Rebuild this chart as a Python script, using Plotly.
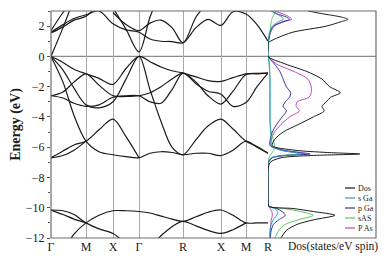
import plotly.graph_objects as go

# ---------------- data ----------------
# k-path grid (cumulative path distance), high-symmetry points at indices 0,3,5,7,11,14,16,18
K = [0, 12, 23, 35, 48, 62, 75, 88, 99, 110, 121, 132, 145, 157, 170, 182, 195, 206, 217]
K_TICKS = [0, 35, 62, 88, 132, 170, 195, 217]
K_LABELS = ["Γ", "M", "X", "Γ", "R", "X", "M", "R"]

# conduction bands (eV)
C1 = [0, 1.9, 3.8, None, None, 3.2, 1.8, 0.3, 2.6, 4.3, None, None, None, None, None, None, None, None, None]
C2 = [1.6, 2.1, 2.5, 2.75, 3.0, 2.15, 1.75, 1.6, 1.15, 1.0, 0.98, 0.9, 1.9, 2.45, 2.05, 2.95, 2.8, 2.1, 1.0]
C3 = [1.7, 2.9, 3.8, None, None, 2.9, 2.1, 1.7, 2.2, 2.4, 1.9, 0.9, 2.6, 3.6, None, None, None, None, None]
C4 = [1.55, 1.95, 2.4, 2.65, 3.5, None, None, None, None, None, None, None, None, None, None, None, None, None, None]
# upper valence bands
V1 = [0, -0.4, -0.85, -1.15, -1.45, -1.85, -0.8, 0, -0.35, -0.7, -0.95, -1.1, -1.35, -1.6, -1.65, -1.4, -1.15, -1.12, -1.1]
V2 = [-2.6, -2.35, -1.7, -1.15, -1.9, -2.6, -2.65, -2.6, -2.4, -2.0, -1.5, -1.1, -1.7, -2.6, -3.15, -2.3, -1.2, -1.15, -1.1]
V3 = [0, -0.9, -2.1, -3.2, -3.4, -3.0, -1.5, 0, -2.2, -4.3, -6.0, -6.5, -5.5, -4.6, -4.15, -4.8, -5.6, -5.95, -6.4]
V4 = [-2.6, -2.75, -3.1, -3.3, -3.2, -2.7, -2.6, -2.6, -3.0, -3.1, -2.2, -1.1, -1.8, -2.3, -2.5, -3.3, -3.05, -2.0, -1.1]
# middle valence bands
S1 = [0, -1.7, -3.9, -5.6, -6.3, -6.5, -6.62, -6.7, -6.4, -6.3, -6.35, -6.5, -6.4, -6.4, -6.55, -6.2, -5.6, -6.0, -6.4]
S2 = [-6.7, -6.25, -5.85, -5.6, -4.85, -4.15, -5.3, -6.7, None, None, None, None, None, None, None, None, None, None, None]
S3 = [-6.7, -6.55, -6.2, -5.6, None, None, None, None, None, None, None, None, None, None, None, None, None, None, None]
# lower valence bands
L1 = [-10.15, -10.2, -10.45, -11.0, -11.4, -11.7, -12.4, None, None, None, None, None, None, None, None, None, None, None, None]
L2 = [-10.15, -10.45, -10.75, -11.0, None, None, None, None, None, None, None, None, None, None, None, None, None, None, None]
L3 = [None, -12.9, -11.75, -11.0, -10.5, -10.2, -10.2, -10.25, -10.35, -10.55, -10.75, -10.9, -10.6, -10.3, -10.15, -10.5, -11.0, -11.0, -11.0]
L4 = [None, None, None, None, None, None, None, None, -12.6, -11.85, -11.25, -10.9, -11.2, -11.5, -11.7, -11.45, -11.0, None, None]

BANDS = [C1, C2, C3, C4, V1, V2, V3, V4, S1, S2, S3, L1, L2, L3, L4]

# density of states (energy grid and partial DOS values)
E_DOS = [3.0, 2.8, 2.6, 2.45, 2.3, 2.0, 1.6, 1.2, 0.9, 0.5, 0.0, -0.5, -1.0, -1.5, -2.0, -2.4, -2.7, -3.0,
         -3.3, -3.6, -4.0, -4.5, -5.0, -5.5, -5.9, -6.2, -6.35, -6.45, -6.55, -6.7, -7.0, -7.5, -8.5, -9.5,
         -9.9, -10.05, -10.25, -10.5, -10.8, -11.1, -11.5, -12.0]
DOS_TOTAL = [3.7, 5.2, 6.8, 7.4, 6.8, 5.4, 2.3, 0.8, 0.05, 0, 0, 1.6, 3.6, 5.0, 5.7, 6.7, 5.8, 5.4,
             5.0, 5.2, 4.2, 2.8, 1.4, 0.6, 0.4, 2.5, 5.5, 8.5, 4.0, 1.2, 0.2, 0, 0, 0,
             0.1, 2.3, 4.2, 6.2, 4.2, 2.7, 1.7, 1.2]
DOS_S_GA = [0.3, 0.8, 1.3, 1.4, 1.0, 0.4, 0.15, 0.05, 0, 0, 0, 0.1, 0.15, 0.2, 0.2, 0.2, 0.2, 0.2,
            0.2, 0.2, 0.2, 0.2, 0.25, 0.3, 0.3, 1.2, 2.4, 3.0, 1.2, 0.3, 0, 0, 0, 0,
            0.05, 0.6, 0.9, 0.8, 0.5, 0.3, 0.2, 0.15]
DOS_P_GA = [0.3, 0.9, 1.7, 2.0, 1.4, 0.5, 0.2, 0.1, 0, 0, 0, 0.6, 1.1, 1.4, 1.7, 2.1, 2.0, 1.6,
            1.4, 1.7, 1.3, 0.8, 0.4, 0.2, 0.2, 1.5, 3.0, 3.9, 1.6, 0.4, 0.05, 0, 0, 0,
            0.05, 0.8, 1.3, 1.6, 1.0, 0.5, 0.3, 0.2]
DOS_S_AS = [0.8, 0.6, 0.45, 0.35, 0.3, 0.25, 0.2, 0.1, 0.05, 0, 0, 0.15, 0.15, 0.15, 0.15, 0.15, 0.15, 0.15,
            0.15, 0.15, 0.15, 0.2, 0.3, 0.5, 0.6, 0.5, 0.4, 0.3, 0.2, 0.1, 0, 0, 0, 0,
            0.1, 1.5, 3.0, 4.2, 2.8, 1.6, 1.0, 0.65]
DOS_P_AS = [0.6, 1.4, 2.0, 2.2, 1.5, 0.6, 0.25, 0.1, 0, 0, 0, 0.8, 2.4, 3.7, 4.0, 4.0, 3.8, 2.7,
            2.6, 2.9, 2.0, 1.2, 0.6, 0.3, 0.3, 1.2, 2.5, 3.5, 1.5, 0.4, 0.05, 0, 0, 0,
            0, 0.2, 0.35, 0.4, 0.3, 0.25, 0.2, 0.2]

DOS_SERIES = [DOS_TOTAL, DOS_S_GA, DOS_P_GA, DOS_S_AS, DOS_P_AS]
DOS_NAMES = ["Dos", "s Ga", "p Ga", "sAS", "P As"]
DOS_COLORS = ["#1a1a1a", "#2f9fb3", "#34349a", "#5dc95d", "#c046c0"]

Y_TICKS = [-12, -10, -8, -6, -4, -2, 0, 2]
DOS_TITLE = "Dos(states/eV spin)"

# ---------------- figure ----------------
FONT = "Liberation Serif"
PAGE = 8                      # default body margin of the html page
W, H = 387 - PAGE, 262 - PAGE
ML, MR, MT, MB = 51 - PAGE, 11, 11 - PAGE, 24
PW, PH = W - ML - MR, H - MT - MB
SPLIT = (268 - PAGE - ML) / PW

fig = go.Figure()

for b in BANDS:
    fig.add_trace(go.Scatter(x=K, y=b, mode="lines", showlegend=False, hoverinfo="skip",
                             line=dict(color="#1a1a1a", width=1.2, shape="spline", smoothing=0.9),
                             connectgaps=False, xaxis="x", yaxis="y"))

order = [4, 3, 2, 1, 0]
for i in order:
    fig.add_trace(go.Scatter(x=DOS_SERIES[i], y=E_DOS, mode="lines", name=DOS_NAMES[i], showlegend=False,
                             line=dict(color=DOS_COLORS[i], width=1.0, shape="spline", smoothing=0.8),
                             xaxis="x2", yaxis="y"))

shapes = [
    dict(type="line", xref="paper", yref="y", x0=0, x1=1, y0=0, y1=0,
         line=dict(color="#8c8c8c", width=1.2), layer="below"),
    dict(type="rect", xref="paper", yref="paper", x0=0, x1=1, y0=0, y1=1,
         line=dict(color="#6e6e6e", width=1.2)),
]

annotations = []
leg_y = [188, 198, 208, 218, 228]
for j, name in enumerate(DOS_NAMES):
    yp = 1 - (leg_y[j] - 11) / PH
    x0 = (345 - 51) / PW
    x1 = (355 - 51) / PW
    shapes.append(dict(type="line", xref="paper", yref="paper", x0=x0, x1=x1, y0=yp, y1=yp,
                       line=dict(color=DOS_COLORS[j], width=1.2)))
    annotations.append(dict(xref="paper", yref="paper", x=x1 + 0.002, y=yp, text=name, showarrow=False,
                            xanchor="left", yanchor="middle",
                            font=dict(family=FONT, size=8, color="#222")))

annotations.append(dict(xref="paper", yref="paper", x=(333 - 51) / PW, y=-(246 - 238) / PH,
                        text=DOS_TITLE, showarrow=False, xanchor="center", yanchor="middle",
                        font=dict(family=FONT, size=11.5, color="#1a1a1a")))

fig.update_layout(
    width=W, height=H,
    margin=dict(l=ML, r=MR, t=MT, b=MB),
    paper_bgcolor="white", plot_bgcolor="white",
    font=dict(family=FONT, color="#1a1a1a"),
    xaxis=dict(domain=[0, SPLIT], range=[0, 217], tickvals=K_TICKS, ticktext=K_LABELS,
               showgrid=True, gridcolor="#a8a8a8", gridwidth=1.2, zeroline=False,
               showline=False, ticks="", tickfont=dict(family=FONT, size=12, color="#1a1a1a"),
               automargin=False, anchor="y"),
    xaxis2=dict(domain=[SPLIT, 1], range=[0, 10], showticklabels=False, showgrid=False,
                zeroline=False, showline=False, ticks="", anchor="y", automargin=False),
    yaxis=dict(range=[-12, 3], tickvals=Y_TICKS, ticks="outside", ticklen=3, tickcolor="#555",
               minor=dict(dtick=1, tick0=0, ticks="outside", ticklen=2, tickcolor="#555"),
               showgrid=False, zeroline=False, showline=False, automargin=False,
               tickfont=dict(family=FONT, size=12, color="#1a1a1a"),
               title=dict(text="<b>Energy (eV)</b>", font=dict(family=FONT, size=14, color="#1a1a1a"),
                          standoff=4),
               anchor="x"),
    shapes=shapes,
    annotations=annotations,
)

fig.write_html("out.html")
